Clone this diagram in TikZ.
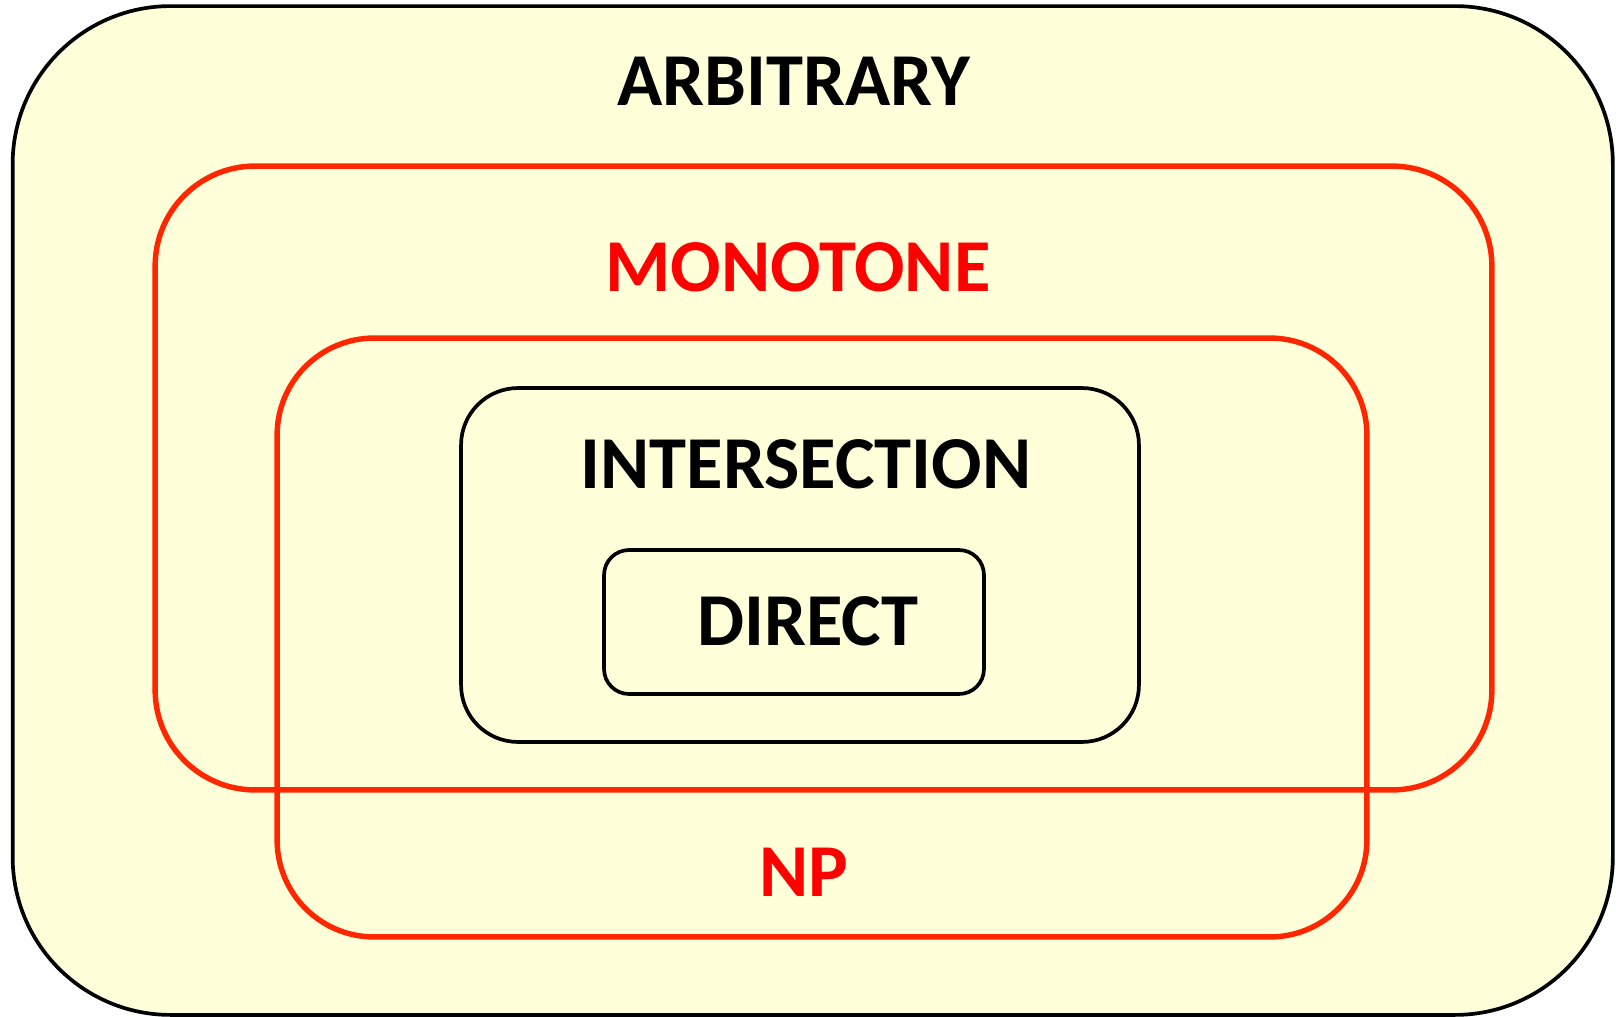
\documentclass[tikz,border=0pt]{standalone}
\usepackage{fontspec}
\setmainfont{Carlito}
\usetikzlibrary{positioning}
\definecolor{setfill}{RGB}{255,255,217}
\definecolor{redborder}{RGB}{255,38,0}
\definecolor{redtext}{RGB}{255,0,0}

\begin{document}
\begin{tikzpicture}[
                x=0.02cm, y=-0.02cm,
                setbox/.style={rectangle, draw=black, line width=2.1pt, inner sep=0pt, outer sep=0pt},
                redbox/.style={setbox, draw=redborder, line width=3.1pt},
                classlabel/.style={font=\fontsize{42.5}{50}\selectfont\bfseries, inner sep=0pt, text=black}
                ]
                \useasboundingbox (0,0) rectangle (1616,1017);

                \node[setbox, fill=setfill, minimum width=32.01cm, minimum height=20.18cm, rounded corners=3.16cm] (arbitrary) at (812.75,510.5) {};
                \node[redbox, minimum width=26.74cm, minimum height=12.48cm, rounded corners=2.0cm] (monotone) at (823.5,478) {};
                \node[redbox, minimum width=21.8cm, minimum height=11.98cm, rounded corners=1.94cm] (np) at (822,637.5) {};
                \node[setbox, minimum width=13.56cm, minimum height=7.08cm, rounded corners=1.14cm] (intersection) at (800,565) {};
                \node[setbox, minimum width=7.6cm, minimum height=2.88cm, rounded corners=0.5cm] (direct) at (794,622) {};

                % class names
                \node[classlabel] (arbitrarylabel) at (794,81) {ARBITRARY};
                \node[classlabel, text=redtext] (monotonelabel) at (798,267) {MONOTONE};
                \node[classlabel] (intersectionlabel) at (806,464) {INTERSECTION};
                \node[classlabel] (directlabel) at (808,621) {DIRECT};
                \node[classlabel, text=redtext] (nplabel) at (804,872) {NP};
            \end{tikzpicture}
\end{document}
